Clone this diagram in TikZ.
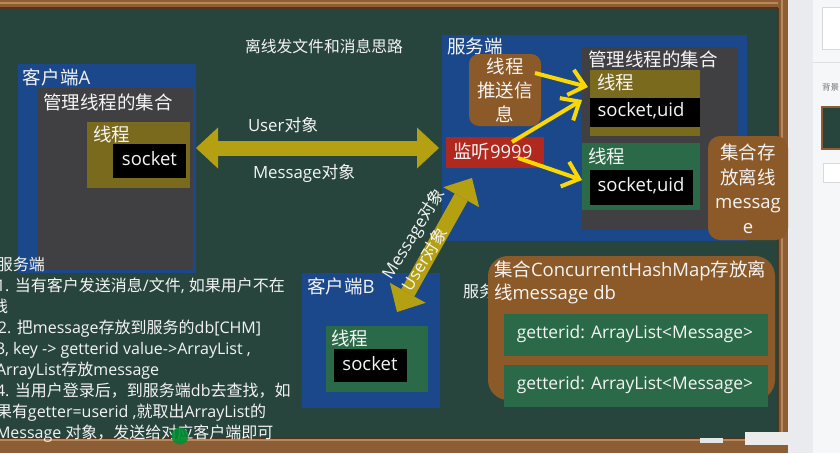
\documentclass[tikz,border=0pt]{standalone}
\usepackage{fontspec}
\setmainfont{Noto Sans CJK SC}
\newfontfamily\enfont{Open Sans}
\newcommand\E[1]{{\enfont #1}}
\newcommand\fsL{\fontsize{18.5pt}{24pt}\selectfont}
\newcommand\fsM{\fontsize{16.8pt}{20pt}\selectfont}
\newcommand\fsS{\fontsize{16pt}{21pt}\selectfont}
\newcommand\fsT{\fontsize{15.8pt}{20pt}\selectfont}
\usetikzlibrary{arrows.meta,calc}
\definecolor{board}{RGB}{40,69,61}
\definecolor{wood}{RGB}{141,94,54}
\definecolor{woodlight}{RGB}{184,136,88}
\definecolor{wooddark}{RGB}{80,52,30}
\definecolor{cblue}{RGB}{27,72,138}
\definecolor{cgray}{RGB}{64,64,66}
\definecolor{colive}{RGB}{122,106,30}
\definecolor{cgreen}{RGB}{43,106,72}
\definecolor{cbrown}{RGB}{139,90,40}
\definecolor{cred}{RGB}{176,40,30}
\definecolor{fatcol}{RGB}{181,160,18}
\definecolor{ylw}{RGB}{250,216,0}
\definecolor{txt}{RGB}{244,244,244}
\definecolor{panel}{RGB}{246,247,249}
\definecolor{panelstrip}{RGB}{233,235,238}
\begin{document}
\begin{tikzpicture}[x=1pt,y=-1pt,
  box/.style={inner sep=0pt,outer sep=0pt,anchor=north west,draw=none},
  lab/.style={inner sep=0pt,outer sep=0pt,text=txt,anchor=base west,font=\fsL},
  clab/.style={inner sep=0pt,outer sep=0pt,text=txt,anchor=center,font=\fsL},
  fat/.style={draw=fatcol,line width=15pt,
    {Triangle[width=41pt,length=22pt,line width=0pt]}-{Triangle[width=41pt,length=22pt,line width=0pt]}},
  thin/.style={draw=ylw,line width=4pt,-{Straight Barb[length=15pt,width=26pt]}}]
\useasboundingbox (0,0) rectangle (840,453);
\clip (0,0) rectangle (840,453);
% board and frame
\fill[board] (0,0) rectangle (788,453);
\fill[wood] (0,0) rectangle (788,8);
\fill[woodlight] (0,2) rectangle (788,3.5);
\fill[wooddark] (0,7) rectangle (778,8.5);
\fill[wood] (778,0) rectangle (788,453);
\fill[woodlight] (781,0) rectangle (783,453);
\fill[wooddark] (777,8) rectangle (778.5,438);
% right panel
\fill[panelstrip] (788,0) rectangle (813,453);
\fill[panel] (813,0) rectangle (840,453);
\node[box,fill=white,draw=black!15,minimum width=24pt,minimum height=42pt] (pbox1) at (822,7) {};
\draw[black!12] (813,62) -- (840,62);
\node[inner sep=0pt,anchor=base west,text=black!55,font=\fontsize{8.5pt}{10pt}\selectfont] (pbg) at (822,90) {背景};
\node[box,fill=board,draw=wood,line width=1.5pt,minimum width=24pt,minimum height=42pt] (pthumb) at (822,107) {};
\node[box,fill=white,draw=black!15,minimum width=24pt,minimum height=19pt] (pbox2) at (823,163) {};

% title
\node[lab,font=\fsT] (title) at (245,52.7) {离线发文件和消息思路};

% client A
\node[box,fill=cblue,minimum width=178pt,minimum height=209pt] (clientA) at (18,64) {};
\node[box,fill=cgray,minimum width=156pt,minimum height=182pt] (grayA) at (37,88) {};
\node[box,fill=colive,minimum width=103pt,minimum height=66pt] (oliveA) at (87,122) {};
\node[box,fill=black,minimum width=73pt,minimum height=34pt] (blackA) at (113,144) {};
\node[lab] (clientAlab) at (23,84.7) {客户端\E{A}};
\node[lab] (grayAlab) at (43,109.7) {管理线程的集合};
\node[lab] (oliveAlab) at (93,141.7) {线程};
\node[clab] (sockA) at (149.5,159) {\E{socket}};

% server
\node[box,fill=cblue,minimum width=305pt,minimum height=206pt] (server) at (442,35) {};
\node[lab] (serverlab) at (447,53.7) {服务端};
\node[box,fill=cbrown,rounded corners=10pt,minimum width=72pt,minimum height=72pt] (push) at (469,54) {};
\node[clab,align=center] (pushlab) at (505,90) {线程\\推送信\\息};
\node[box,fill=cred,minimum width=98pt,minimum height=31pt] (red) at (446,137) {};
\node[lab] (redlab) at (453,158.7) {监听\E{9999}};
\node[box,fill=cgray,minimum width=155pt,minimum height=183pt] (grayS) at (582,47) {};
\node[lab] (graySlab) at (588,66.7) {管理线程的集合};
\node[box,fill=colive,minimum width=110pt,minimum height=66pt] (oliveS) at (590,70) {};
\node[lab] (oliveSlab) at (597,89.7) {线程};
\node[box,fill=black,minimum width=110pt,minimum height=29pt] (blackS1) at (590,98) {};
\node[clab] (sockS1) at (641,111) {\E{socket,uid}};
\node[box,fill=cgreen,minimum width=118pt,minimum height=67pt] (greenS) at (582,143) {};
\node[lab] (greenSlab) at (588,163.7) {线程};
\node[box,fill=black,minimum width=103pt,minimum height=35pt] (blackS2) at (590,170) {};
\node[clab] (sockS2) at (641,186) {\E{socket,uid}};
\node[box,fill=cbrown,rounded corners=12pt,minimum width=80pt,minimum height=104pt] (store) at (708,136) {};
\node[clab,align=center,font=\fontsize{18.5pt}{24.5pt}\selectfont] (storelab) at (748,189) {集合存\\放离线\\\E{messag}\\\E{e}};

% client B
\node[box,fill=cblue,minimum width=138pt,minimum height=135pt] (clientB) at (302,273) {};
\node[box,fill=cgreen,minimum width=102pt,minimum height=66pt] (greenB) at (326,326) {};
\node[box,fill=black,minimum width=73pt,minimum height=33pt] (blackB) at (334,349) {};
\node[lab] (clientBlab) at (307,293.7) {客户端\E{B}};
\node[lab] (greenBlab) at (331,345.7) {线程};
\node[clab] (sockB) at (370,364) {\E{socket}};

% db
\node[lab,font=\fsS] (srvnote) at (463,297.8) {服务端};
\node[box,fill=cbrown,rounded corners=20pt,minimum width=287pt,minimum height=144pt] (db) at (488,256) {};
\node[lab] (dblab1) at (494,276.7) {集合\E{ConcurrentHashMap}存放离};
\node[lab] (dblab2) at (494,299.7) {线\E{message db}};
\node[box,fill=cgreen,minimum width=264pt,minimum height=42pt] (db1) at (504,314) {};
\node[box,fill=cgreen,minimum width=264pt,minimum height=42pt] (db2) at (504,365) {};
\node[clab,font=\fontsize{17.4pt}{20pt}\selectfont] (db1lab) at (635,334) {\E{getterid: ArrayList<Message>}};
\node[clab,font=\fontsize{17.4pt}{20pt}\selectfont] (db2lab) at (635,385) {\E{getterid: ArrayList<Message>}};

% bottom wood
\fill[wood] (0,438) rectangle (788,453);
\fill[woodlight] (0,438) rectangle (788,441);
\fill[wooddark] (0,437) rectangle (778,438.5);
\fill[black!10] (700,438) rectangle (723,443);
\fill[black!8] (745,432) rectangle (788,445);

% notes
\node[lab,font=\fsS] (n0) at (-3,270.8) {服务端};
\node[lab,font=\fsS] (n1) at (-4,291.8) {\E{1. }当有客户发送消息\E{/}文件\E{, }如果用户不在};
\node[lab,font=\fsS] (n2) at (-8,312.8) {线};
\node[lab,font=\fsS] (n3) at (-2,333.8) {\E{2. }把\E{message}存放到服务的\E{db[CHM]}};
\node[lab,font=\fsS] (n4) at (-4,354.8) {\E{3, key -> getterid value->ArrayList ,}};
\node[lab,font=\fsS] (n5) at (-4,375.8) {\E{ArrayList}存放\E{message}};
\node[lab,font=\fsS] (n6) at (-4,396.8) {\E{4. }当用户登录后，到服务端\E{db}去查找，如};
\node[lab,font=\fsS] (n7) at (-4,417.8) {果有\E{getter=userid ,}就取出\E{ArrayList}的};
\node[lab,font=\fsS] (n8) at (-4,438.8) {\E{Message }对象，发送给对应客户端即可};

% connectors
\draw[fat] ($(clientA.east)+(0,-20.5)$) -- ($(server.west)+(-3,10)$);
\node[lab,font=\fsM] (ulab) at (248,131) {\E{User}对象};
\node[lab,font=\fsM] (mlab) at (253,178) {\E{Message}对象};
\draw[fat] ($(clientB.north west)+(95,39)$) -- ($(red.south west)+(26,10)$);
\node[clab,font=\fsM,rotate=58] (dmsg) at (414,234) {\E{Message}对象};
\node[clab,font=\fsM,rotate=58] (dusr) at (424,259) {\E{User}对象};
\draw[thin] ($(push.east)+(-6,-17)$) -- ($(oliveS.west)+(-2,-16)$);
\draw[thin] ($(red.center)+(17,-10.5)$) -- ($(blackS1.west)+(-8,-12.5)$);
\draw[thin] ($(red.center)+(23,5.5)$) -- ($(greenS.west)+(0,3.5)$);

% cursor icon
\node[circle,fill=green!45!black!80!cyan,opacity=0.9,minimum size=17pt,inner sep=0pt] (icon) at (180,436) {};
\end{tikzpicture}
\end{document}
